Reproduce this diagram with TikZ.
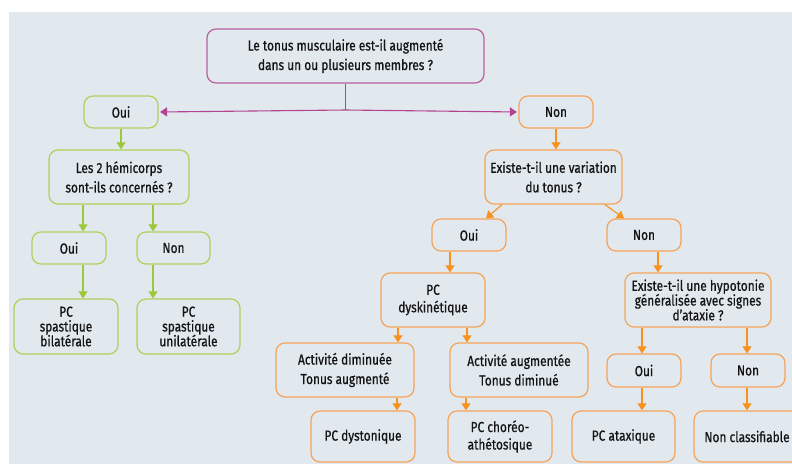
\documentclass[tikz,border=0pt]{standalone}
\usepackage{fontspec}
\setmainfont{Fira Sans}[FakeStretch=0.82, FakeBold=0.7]
\usetikzlibrary{arrows.meta}
\definecolor{bgc}{HTML}{E1E9EF}
\definecolor{mag}{HTML}{B3448F}
\definecolor{magb}{HTML}{BC5EA0}
\definecolor{grn}{HTML}{9CC93C}
\definecolor{grnb}{HTML}{ADD25C}
\definecolor{org}{HTML}{F7921E}
\definecolor{orgb}{HTML}{F5A358}
\definecolor{txt}{HTML}{141414}
\begin{document}
\begin{tikzpicture}[x=1pt,y=-1pt,
  font=\fontsize{14.5}{19.5}\selectfont,
  box/.style={draw, line width=1.2pt, rounded corners=9pt, fill=bgc, inner sep=0pt, align=center, text=txt},
  three/.style={font=\fontsize{14.5}{14.8}\selectfont},
  twos/.style={font=\fontsize{14.5}{17.5}\selectfont},
  mbox/.style={box, draw=magb},
  gbox/.style={box, draw=grnb},
  obox/.style={box, draw=orgb},
  marr/.style={draw=mag, line width=1.1pt, -{Triangle[width=9pt,length=7pt]}},
  garr/.style={draw=grn, line width=1.1pt, -{Triangle[width=9pt,length=7pt]}},
  oarr/.style={draw=org, line width=1.1pt, -{Triangle[width=9pt,length=7pt]}}]
\useasboundingbox (0,0) rectangle (792,464);
\fill[bgc] (9,12) rectangle (792,464);
\begin{scope}
\clip (0,0) rectangle (792,464);
% nodes
\node[mbox, minimum width=277pt, minimum height=54pt] (top) at (345.5,56) {Le tonus musculaire est-il augmenté\\dans un ou plusieurs membres ?};
\node[gbox, minimum width=74pt, minimum height=32pt] (oui1) at (121,112) {Oui};
\node[obox, minimum width=74pt, minimum height=32pt] (non1) at (556,112) {Non};
\node[gbox, minimum width=140pt, minimum height=54pt] (hemi) at (119,177) {Les 2 hémicorps\\sont-ils concernés ?};
\node[gbox, minimum width=74pt, minimum height=32pt] (oui2) at (69,248) {Oui};
\node[gbox, minimum width=73pt, minimum height=32pt] (non2) at (173.5,248) {Non};
\node[gbox, three, minimum width=104pt, minimum height=55pt] (bil) at (66,326.5) {PC\\spastique\\bilatérale};
\node[gbox, three, minimum width=103pt, minimum height=55pt] (uni) at (188.5,326.5) {PC\\spastique\\unilatérale};
\node[obox, minimum width=137pt, minimum height=54pt] (var) at (553.5,177) {Existe-t-il une variation\\du tonus ?};
\node[obox, minimum width=74pt, minimum height=32pt] (oui3) at (469,235) {Oui};
\node[obox, minimum width=74pt, minimum height=32pt] (non3) at (644,235) {Non};
\node[obox, twos, minimum width=104pt, minimum height=54pt] (dys) at (433,300) {PC\\dyskinétique};
\node[obox, three, minimum width=146pt, minimum height=54pt] (hyp) at (698,300) {Existe-t-il une hypotonie\\généralisée avec signes\\d’ataxie ?};
\node[obox, minimum width=138pt, minimum height=54pt] (actd) at (345,370) {Activité diminuée\\Tonus augmenté};
\node[obox, minimum width=138pt, minimum height=54pt] (acta) at (519,370) {Activité augmentée\\Tonus diminué};
\node[obox, minimum width=74pt, minimum height=33pt] (oui4) at (644,370.5) {Oui};
\node[obox, minimum width=74pt, minimum height=33pt] (non4) at (748,370.5) {Non};
\node[obox, minimum width=104pt, minimum height=51pt] (dyst) at (363,436.5) {PC dystonique};
\node[obox, twos, minimum width=104pt, minimum height=51pt] (chor) at (500,436.5) {PC choréo-\\athétosique};
\node[obox, minimum width=103pt, minimum height=51pt] (atax) at (623.5,436.5) {PC ataxique};
\node[obox, minimum width=106pt, minimum height=51pt] (ncl) at (747,436.5) {Non classifiable};
% connectors
\coordinate (j) at (top.south |- 0,110);
\draw[draw=mag, line width=1.1pt] (top.south) -- (j);
\draw[marr, shorten >=1.5pt] (j) -- (oui1.east);
\draw[marr, shorten >=1.5pt] (j) -- (non1.west);
\draw[garr] (oui1.south) -- (oui1.south |- hemi.north);
\draw[garr] ([xshift=-36pt]hemi.south) -- ([xshift=14pt]oui2.north);
\draw[garr] ([xshift=34pt]hemi.south) -- ([xshift=-20.5pt]non2.north);
\draw[garr] ([xshift=14pt]oui2.south) -- ([xshift=17pt]bil.north);
\draw[garr] ([xshift=-20.5pt]non2.south) -- ([xshift=-35.5pt]uni.north);
\draw[oarr] (non1.south) -- (non1.south |- var.north);
\draw[oarr] ([xshift=-51.5pt]var.south) -- ([xshift=17pt]oui3.north);
\draw[oarr] ([xshift=51.5pt]var.south) -- ([xshift=-20pt]non3.north);
\draw[oarr] ([xshift=-19pt]oui3.south) -- ([xshift=17pt]dys.north);
\draw[oarr] ([xshift=14pt]non3.south) -- ([xshift=-40pt]hyp.north);
\draw[oarr] ([xshift=-35pt]dys.south) -- ([xshift=53pt]actd.north);
\draw[oarr] ([xshift=34pt]dys.south) -- ([xshift=-52pt]acta.north);
\draw[oarr] ([xshift=52pt]actd.south) -- ([xshift=34pt]dyst.north);
\draw[oarr] ([xshift=-53pt]acta.south) -- ([xshift=-34pt]chor.north);
\draw[oarr] ([xshift=-56pt]hyp.south) -- ([xshift=-2pt]oui4.north);
\draw[oarr] ([xshift=49pt]hyp.south) -- ([xshift=-1pt]non4.north);
\draw[oarr] ([xshift=-2pt]oui4.south) -- ([xshift=18.5pt]atax.north);
\draw[oarr] ([xshift=-1pt]non4.south) -- (ncl.north);
\end{scope}
\end{tikzpicture}
\end{document}
